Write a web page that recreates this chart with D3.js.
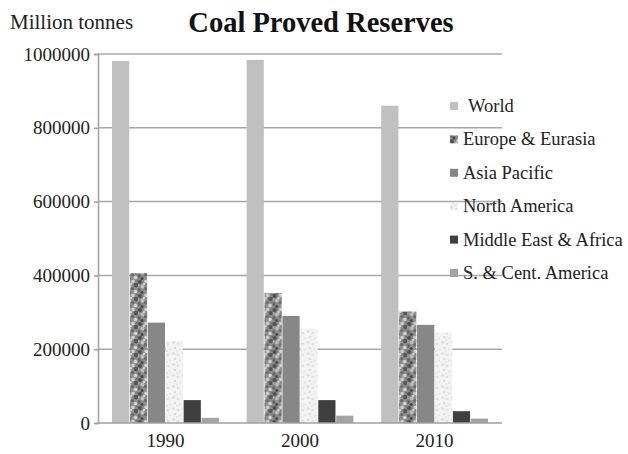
<!DOCTYPE html>
<html>
<head>
<meta charset="utf-8">
<script src="https://cdn.jsdelivr.net/npm/d3@7"></script>
<style>
  html, body { margin: 0; padding: 0; background: #fff; }
  svg { display: block; }
</style>
</head>
<body>
<svg id="chart" width="628" height="454"></svg>
<script>
// Coal proved reserves, million tonnes
const years = ["1990", "2000", "2010"];
const regions = ["World", "Europe & Eurasia", "Asia Pacific", "North America", "Middle East & Africa", "S. & Cent. America"];
const world = [981000, 984000, 860000];
const europe = [406000, 352000, 302000];
const asia = [272000, 290000, 266000];
const northAmerica = [222000, 256000, 245000];
const middleEast = [62000, 62000, 32000];
const southAmerica = [14000, 20000, 12000];
const yTicks = [0, 200000, 400000, 600000, 800000, 1000000];

const seriesValues = [world, europe, asia, northAmerica, middleEast, southAmerica];
const SERIF = "'Liberation Serif', 'Times New Roman', serif";

const svg = d3.select("#chart");
const margin = { left: 98, right: 126, top: 54, bottom: 31 };
const W = 628, H = 454;

// Textures for the patterned series
const defs = svg.append("defs");
const mottled = defs.append("pattern")
  .attr("id", "mottled").attr("patternUnits", "userSpaceOnUse")
  .attr("width", 13).attr("height", 14);
mottled.append("rect").attr("width", 13).attr("height", 14).attr("fill", "#8c8c8c");
[[2, 2, 2.0, "#4d4d4d"], [8, 1.5, 1.8, "#cfcfcf"], [11, 5, 2.2, "#555"], [4.5, 6.5, 1.9, "#bdbdbd"],
 [1, 10, 1.7, "#606060"], [7.5, 8.5, 1.6, "#6a6a6a"], [10.5, 11.5, 1.8, "#d6d6d6"], [4, 12.5, 1.5, "#454545"],
 [6, 4, 1.0, "#e6e6e6"], [12.5, 0.5, 1.3, "#707070"], [0.3, 5.5, 1.1, "#b5b5b5"], [8.5, 13.5, 1.0, "#9f9f9f"]]
  .forEach(([cx, cy, r, c]) => mottled.append("circle").attr("cx", cx).attr("cy", cy).attr("r", r).attr("fill", c));

const speckled = defs.append("pattern")
  .attr("id", "speckled").attr("patternUnits", "userSpaceOnUse")
  .attr("width", 10).attr("height", 11);
speckled.append("rect").attr("width", 10).attr("height", 11).attr("fill", "#f3f3f3");
[[1.5, 1.5, 1.2, "#d6d6d6"], [6, 3, 1.3, "#dedede"], [3, 7, 1.1, "#d0d0d0"], [8, 8.5, 1.0, "#e0e0e0"], [5, 10, 0.8, "#d9d9d9"]]
  .forEach(([cx, cy, r, c]) => speckled.append("circle").attr("cx", cx).attr("cy", cy).attr("r", r).attr("fill", c));

const fills = ["#c0c0c0", "url(#mottled)", "#878787", "url(#speckled)", "#3f3f3f", "#a3a3a3"];

const x0 = d3.scaleBand().domain(years)
  .range([margin.left, W - margin.right])
  .paddingInner(0.207).paddingOuter(0.104);
const x1 = d3.scaleBand().domain(regions).range([0, x0.bandwidth()]).paddingInner(0.04);
const y = d3.scaleLinear().domain([0, 1000000]).range([H - margin.bottom, margin.top]);

// Horizontal gridlines
svg.append("g").selectAll("line").data(yTicks.slice(1)).join("line")
  .attr("x1", margin.left).attr("x2", W - margin.right)
  .attr("y1", d => y(d)).attr("y2", d => y(d))
  .attr("stroke", "#a8a8a8").attr("stroke-width", 1.5);

// Bars
const groups = svg.append("g").selectAll("g").data(years).join("g")
  .attr("transform", d => `translate(${x0(d)},0)`);
groups.selectAll("rect")
  .data((yr, i) => regions.map((r, k) => ({ region: r, k, value: seriesValues[k][i] })))
  .join("rect")
  .attr("x", d => x1(d.region))
  .attr("width", x1.bandwidth())
  .attr("y", d => y(d.value))
  .attr("height", d => y(0) - y(d.value))
  .attr("fill", d => fills[d.k]);

// Y axis
const yAxis = svg.append("g").attr("transform", `translate(${margin.left},0)`)
  .call(d3.axisLeft(y).tickValues(yTicks).tickSize(4).tickPadding(4).tickFormat(d3.format("d")));
yAxis.attr("font-family", SERIF);
yAxis.select(".domain").attr("stroke", "#a0a0a0").attr("stroke-width", 1.5);
yAxis.selectAll(".tick line").attr("stroke", "#a0a0a0").attr("stroke-width", 1.5);
yAxis.selectAll(".tick text").style("font-size", "19px").attr("fill", "#222")
  .style("font-family", SERIF);

// X axis
const xAxis = svg.append("g").attr("transform", `translate(0,${y(0)})`)
  .call(d3.axisBottom(x0).tickSize(0).tickPadding(11));
xAxis.attr("font-family", SERIF);
xAxis.select(".domain").attr("stroke", "#a0a0a0").attr("stroke-width", 1.5)
  .attr("d", `M${margin.left},0H${W - margin.right}`);
xAxis.selectAll(".tick text").style("font-size", "19px").attr("fill", "#222")
  .style("font-family", SERIF);

// Titles
svg.append("text").attr("x", 10).attr("y", 29)
  .style("font-family", SERIF).style("font-size", "21px").attr("fill", "#222")
  .text("Million tonnes");
svg.append("text").attr("x", 321).attr("y", 32).attr("text-anchor", "middle")
  .style("font-family", SERIF).style("font-size", "28.5px").style("font-weight", "bold").attr("fill", "#111")
  .text("Coal Proved Reserves");

// Legend
const legend = svg.append("g").selectAll("g").data(regions).join("g")
  .attr("transform", (d, i) => `translate(450,${106 + i * 33.4})`);
legend.append("rect").attr("x", 0).attr("y", -4).attr("width", 8).attr("height", 8)
  .attr("fill", (d, i) => fills[i]);
legend.append("text").attr("x", (d, i) => i === 0 ? 18 : 13).attr("y", 6)
  .style("font-family", SERIF).style("font-size", "18.5px").attr("fill", "#222")
  .text(d => d);
</script>
</body>
</html>
